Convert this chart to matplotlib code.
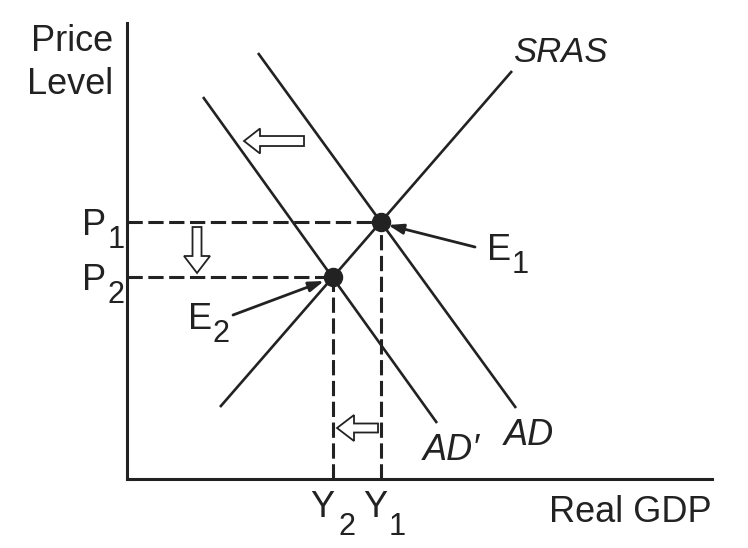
import matplotlib.pyplot as plt

plt.rcParams['font.family'] = ['Liberation Sans', 'DejaVu Sans']
plt.rcParams['lines.scale_dashes'] = False

# curve endpoints (x = real GDP, y = price level), arbitrary units
sras_x = [9.3, 38.5]
sras_y = [7.2, 40.8]
ad_x = [13.1, 38.9]
ad_y = [42.6, 7.1]
ad2_x = [7.6, 31.0]
ad2_y = [38.2, 5.6]

# equilibria
Y1, P1 = 25.4, 25.7
Y2, P2 = 20.6, 20.2

x_max, y_max = 58.5, 45.6

fig = plt.figure(figsize=(7.48, 5.48), dpi=100)
ax = fig.add_axes([0.1698, 0.1259, 0.7821, 0.8321])
ax.set_xlim(0, x_max)
ax.set_ylim(0, y_max)
for s in ['top', 'right']:
    ax.spines[s].set_visible(False)
for s in ['left', 'bottom']:
    ax.spines[s].set_linewidth(2.2)
    ax.spines[s].set_color('#222222')
ax.set_xticks([])
ax.set_yticks([])

col = '#222222'
ax.plot(sras_x, sras_y, color=col, lw=1.9, solid_capstyle='butt')
ax.plot(ad_x, ad_y, color=col, lw=1.9, solid_capstyle='butt')
ax.plot(ad2_x, ad2_y, color=col, lw=1.9, solid_capstyle='butt')

dash = (11, 4)
ax.plot([0, Y1], [P1, P1], color=col, lw=2.2, dashes=dash)
ax.plot([0, Y2], [P2, P2], color=col, lw=2.2, dashes=dash)
ax.plot([Y1, Y1], [0, P1], color=col, lw=2.2, dashes=dash)
ax.plot([Y2, Y2], [0, P2], color=col, lw=2.2, dashes=dash)

ax.plot([Y1, Y2], [P1, P2], 'o', color=col, ms=13, zorder=5)

fs = 26


def sub_label(x, y, base, sub, ha='left', va='center', dx=0, dy=-9, style='normal'):
    t = ax.text(x, y, base, fontsize=fs, ha=ha, va=va, color=col,
                style=style, clip_on=False)
    ax.annotate(sub, xy=(1, 0), xycoords=t, xytext=(dx, dy),
                textcoords='offset points', fontsize=fs * 0.85,
                ha='left', va='bottom', color=col, annotation_clip=False)
    return t


sub_label(-2.1, P1 - 0.3, 'P', '1', ha='right', dx=1, dy=-9)
sub_label(-2.1, P2 - 0.3, 'P', '2', ha='right', dx=1, dy=-9)
sub_label(Y2 - 1.1, -3.8, 'Y', '2', ha='center', va='baseline', dx=3, dy=-12)
sub_label(Y1 - 0.6, -3.8, 'Y', '1', ha='center', va='baseline', dx=1, dy=-12)
sub_label(36.0, 22.9, 'E', '1', dx=0, dy=-9)
sub_label(6.1, 16.0, 'E', '2', dx=0, dy=-9)

ax.text(-1.4, 45.5, 'Price\nLevel', fontsize=fs, ha='right', va='top',
        color=col, linespacing=1.3, clip_on=False)
ax.text(x_max, -4.3, 'Real GDP', fontsize=fs, ha='right', va='baseline',
        color=col, clip_on=False)
ax.text(38.6, 41.7, 'SRAS', fontsize=fs - 1, style='italic', ha='left',
        va='baseline', color=col)
ax.text(37.7, 3.4, 'AD', fontsize=fs, style='italic', ha='left',
        va='baseline', color=col)
ax.text(29.6, 1.9, 'AD\u2032', fontsize=fs, style='italic', ha='left',
        va='baseline', color=col)

# pointers to equilibria
ap = dict(arrowstyle='-|>,head_length=0.9,head_width=0.3', lw=2,
          color=col, shrinkA=0, shrinkB=0)
ax.annotate('', xy=(26.1, 25.4), xytext=(34.8, 23.2), arrowprops=ap)
ax.annotate('', xy=(19.7, 19.8), xytext=(10.6, 16.4), arrowprops=ap)

# hollow shift arrows
hollow = dict(fc='white', ec=col, lw=1.3, length_includes_head=True)
ax.arrow(17.7, 33.8, -6.0, 0, width=1.0, head_width=2.5, head_length=1.6, **hollow)
ax.arrow(7.0, 25.2, 0, -4.6, width=0.9, head_width=2.6, head_length=1.7, **hollow)
ax.arrow(25.1, 5.1, -4.1, 0, width=0.9, head_width=2.6, head_length=1.7, **hollow)

fig.savefig('out.png', dpi=100, facecolor='white')
